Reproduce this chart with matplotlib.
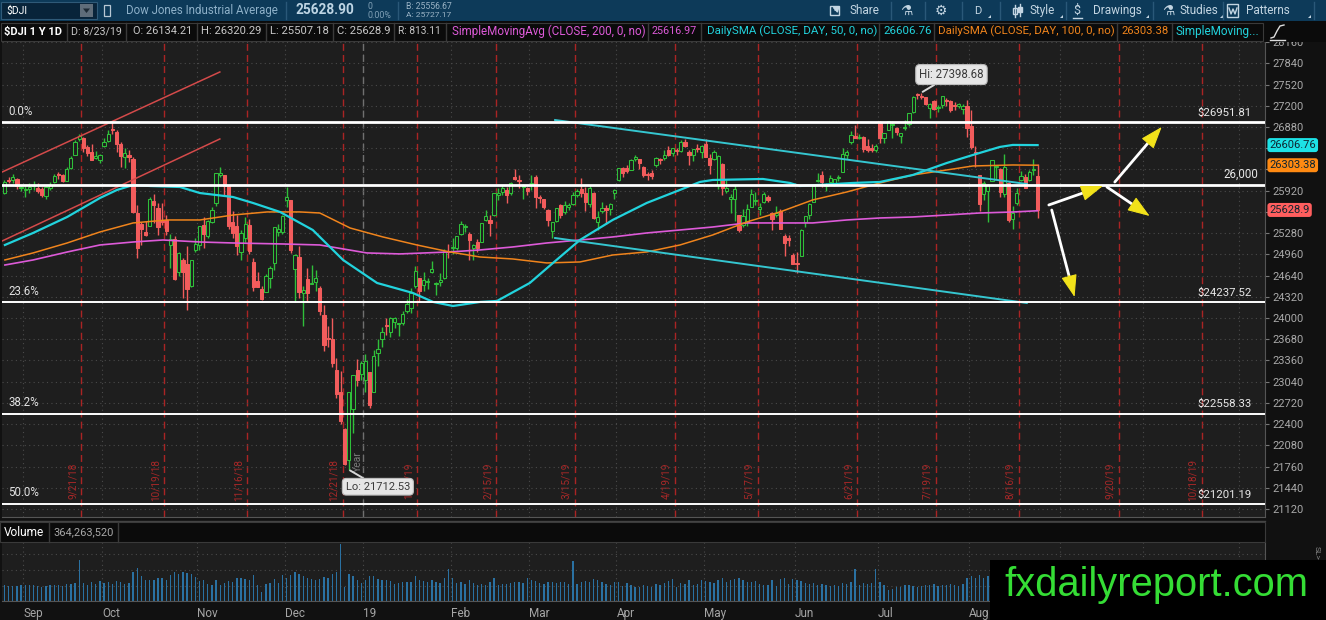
import numpy as np
import pandas as pd
import matplotlib
matplotlib.use("Agg")
import matplotlib.pyplot as plt
from matplotlib.transforms import blended_transform_factory as blend
from matplotlib.patches import Rectangle, FancyArrowPatch, Polygon

W, H = 1326, 620
UI = ['Roboto', 'DejaVu Sans']
plt.rcParams['font.family'] = UI

# ------------------------------------------------------------------ data
market_holidays = ['2018-09-03', '2018-11-22', '2018-12-05', '2018-12-25', '2019-01-01',
                   '2019-01-21', '2019-02-18', '2019-04-19', '2019-05-27', '2019-07-04',
                   '2019-09-02', '2019-11-28']
first_day = '2018-08-27'
axis_last_day = '2019-11-15'

opens = [25880, 26070, 26075, 26090, 25960,
         25930, 25950, 25990, 25960, 25950, 25840, 25960, 26050, 26160, 26150, 26070, 26260, 26460, 26700, 26710, 26580, 26500, 26410, 26380,
         26600, 26670, 26830, 26810, 26630, 26420, 26460, 26390, 25580, 25420, 25300, 25380, 25760, 25660, 25470, 25480, 25100, 25190, 24700, 24870, 24820, 24480, 25030,
         25100, 25400, 25240, 25440, 25740, 26150, 26150, 25990, 25450, 25390, 25000, 25200, 25400, 24850, 24560, 24440, 24390, 24600, 24830, 25300, 25300,
         25780, 25780, 24740, 24920, 24370, 24590, 24520, 24540, 24450, 24050, 23700, 23680, 23220, 22880, 22320, 21860, 22630, 23210, 23150,
         23060, 23180, 22890, 23470, 23680, 23890, 23790, 23940, 23910, 23920, 24100, 24150, 24480, 24610, 24500, 24550, 24700, 24520, 24540, 24610, 25010,
         25050, 25060, 25270, 25370, 25270, 25050, 25150, 25140, 25480, 25480, 25560, 25850, 25900, 25930, 25890, 26130, 26080, 25980, 25960,
         26020, 26120, 25820, 25800, 25630, 25310, 25460, 25700, 25600, 25680, 25720, 25860, 25950, 25880, 25720, 25890, 25440, 25620, 25660, 25640, 25880,
         26080, 26260, 26260, 26230, 26400, 26390, 26270, 26160, 26180, 26300, 26390, 26410, 26530, 26490, 26540, 26520, 26650, 26500, 26450, 26560, 26510,
         26620, 26410, 26390, 26000, 26320, 25920, 25800, 25800, 25560, 25400, 25440, 25680, 25760, 25640, 25750, 25820, 25590, 25560, 25610, 25240, 25200, 24950,
         24830, 24930, 25450, 25550, 25750, 26060, 26150, 25990, 26050, 26040, 26110, 26200, 26460, 26650, 26750, 26710, 26730, 26600, 26570, 26540,
         26960, 26710, 26830, 26910, 26870, 26740, 26860, 26920, 27100, 27360, 27350, 27330, 27160, 27270, 27170, 27210, 27290, 27270, 27200, 27190, 27150, 27200,
         26890, 26510, 26160, 25870, 25910, 26060, 26280, 26250, 25870, 26030, 25500, 25730, 26080, 26130, 26080, 26230, 26134.21]

highs = [26074, 26120, 26168, 26110, 26010,
         25990, 26040, 26070, 26030, 25970, 25990, 26050, 26170, 26200, 26170, 26270, 26440, 26680, 26770, 26730, 26610, 26630, 26520, 26470,
         26720, 26830, 26951.81, 26830, 26660, 26560, 26530, 26420, 25700, 25450, 25460, 25830, 25870, 25730, 25740, 25560, 25270, 25230, 25000, 24910, 25090, 24880, 25200,
         25390, 25530, 25480, 25680, 26190, 26280, 26150, 26000, 25610, 25550, 25320, 25520, 25500, 24900, 24700, 24480, 24660, 24790, 25370, 25420, 25550,
         25980, 25780, 24970, 25080, 24480, 24760, 24800, 24730, 24480, 24200, 23880, 24000, 23390, 23200, 22340, 22880, 23140, 23380, 23350,
         23460, 23180, 23520, 23690, 23860, 24000, 24020, 24020, 23930, 24100, 24290, 24450, 24780, 24610, 24700, 24600, 24860, 24540, 24680, 25040, 25110,
         25200, 25240, 25460, 25420, 25300, 25110, 25190, 25430, 25630, 25560, 25890, 25960, 26000, 25970, 26050, 26240, 26160, 26020, 25980,
         26150, 26160, 25860, 25800, 25650, 25450, 25660, 25720, 25760, 25740, 25900, 25940, 26110, 25980, 26000, 25900, 25620, 25750, 25710, 25740, 25950,
         26260, 26270, 26300, 26400, 26450, 26400, 26290, 26200, 26230, 26430, 26410, 26530, 26600, 26570, 26560, 26690, 26700, 26530, 26550, 26620, 26610,
         26700, 26480, 26530, 26460, 26330, 26080, 25870, 26000, 25560, 25650, 25720, 25940, 25900, 25740, 25900, 25860, 25600, 25690, 25650, 25270, 25250, 24980,
         25000, 25340, 25540, 25730, 26010, 26190, 26210, 26040, 26150, 26100, 26150, 26560, 26530, 26820, 26910, 26770, 26740, 26700, 26630, 26620,
         26970, 26790, 26970, 26970, 26880, 26790, 26990, 27090, 27340, 27390, 27398.68, 27330, 27240, 27290, 27210, 27350, 27320, 27290, 27250, 27240, 27220, 27280,
         27140, 26600, 26160, 26070, 26020, 26380, 26300, 26260, 26480, 26050, 25690, 25960, 26220, 26170, 26230, 26390, 26320.29]

lows = [25862, 26030, 26030, 25940, 25920,
        25830, 25890, 25930, 25880, 25830, 25790, 25930, 26040, 26100, 26050, 26060, 26240, 26450, 26670, 26500, 26440, 26380, 26400, 26340,
        26580, 26660, 26780, 26500, 26280, 26260, 26350, 25590, 24900, 25100, 25240, 25380, 25430, 25250, 25400, 25250, 24750, 24580, 24640, 24300, 24120, 24460, 24990,
        25030, 25050, 25210, 25430, 25690, 26120, 25850, 25340, 25200, 24950, 24870, 25140, 24960, 24400, 24460, 24270, 24390, 24450, 24730, 25230, 25270,
        25680, 24980, 24240, 24300, 23880, 24250, 24510, 24400, 24050, 23500, 23560, 23260, 22800, 22400, 21790, 21712.53, 22270, 22980, 23070,
        22880, 22640, 22880, 23270, 23570, 23740, 23710, 23850, 23730, 23900, 24070, 24080, 24450, 24240, 24400, 24440, 24680, 24350, 24480, 24590, 24900,
        24960, 25020, 25250, 25290, 24880, 24880, 25000, 25140, 25460, 25230, 25540, 25780, 25850, 25740, 25860, 26080, 25960, 25790, 25860,
        25930, 25660, 25730, 25650, 25390, 25210, 25450, 25510, 25570, 25630, 25700, 25830, 25830, 25620, 25680, 25490, 25320, 25580, 25420, 25560, 25800,
        26070, 26130, 26180, 26230, 26370, 26250, 26120, 26080, 26100, 26280, 26320, 26380, 26440, 26440, 26450, 26500, 26580, 26300, 26360, 26510, 26410,
        26420, 26170, 26380, 25950, 25860, 25880, 25580, 25460, 25300, 25370, 25390, 25680, 25700, 25560, 25740, 25750, 25330, 25530, 25340, 24940, 25080, 24810,
        24680, 24930, 25370, 25500, 25750, 26050, 25970, 25910, 26040, 25990, 26060, 26200, 26400, 26620, 26710, 26700, 26500, 26510, 26500, 26500,
        26640, 26640, 26830, 26720, 26760, 26640, 26830, 26900, 27090, 27300, 27300, 27210, 27020, 27130, 27110, 27160, 27200, 27100, 27140, 27160, 27070, 26730,
        26550, 26270, 25620, 25780, 25440, 26060, 26100, 25830, 25830, 25450, 25340, 25710, 26070, 25960, 26060, 26160, 25507.18]

closes = [26050, 26064, 26125, 25987, 25965,
          25952, 25975, 25996, 25917, 25857, 25971, 25999, 26146, 26155, 26062, 26247, 26406, 26657, 26744, 26562, 26492, 26385, 26440, 26458,
          26651, 26774, 26828, 26627, 26447, 26487, 26431, 25599, 25053, 25340, 25251, 25798, 25707, 25379, 25444, 25317, 25191, 24583, 24985, 24688, 24443, 24875, 25116,
          25381, 25271, 25462, 25635, 26180, 26191, 25989, 25387, 25286, 25081, 25289, 25413, 25017, 24466, 24465, 24286, 24640, 24749, 25366, 25339, 25538,
          25826, 25027, 24948, 24389, 24423, 24370, 24527, 24597, 24101, 23593, 23676, 23324, 22860, 22445, 21792, 22878, 23139, 23062, 23327,
          23346, 22686, 23433, 23531, 23787, 23879, 24002, 23996, 23910, 24066, 24207, 24370, 24706, 24404, 24576, 24553, 24737, 24528, 24580, 25015, 25000,
          25064, 25239, 25412, 25390, 25170, 25106, 25053, 25426, 25543, 25439, 25883, 25891, 25954, 25851, 26032, 26092, 26058, 25985, 25916,
          26026, 25820, 25807, 25673, 25473, 25450, 25651, 25555, 25703, 25710, 25849, 25914, 25887, 25746, 25963, 25502, 25517, 25658, 25626, 25717, 25929,
          26258, 26179, 26218, 26385, 26425, 26341, 26151, 26157, 26143, 26412, 26385, 26453, 26450, 26560, 26511, 26656, 26597, 26462, 26543, 26554, 26593,
          26430, 26308, 26505, 26438, 25965, 25967, 25828, 25942, 25325, 25532, 25648, 25863, 25764, 25680, 25877, 25777, 25490, 25586, 25348, 25126, 25170, 24815,
          24820, 25332, 25540, 25721, 25984, 26063, 26049, 26005, 26107, 26090, 26113, 26466, 26504, 26753, 26719, 26728, 26548, 26537, 26527, 26600,
          26717, 26787, 26966, 26922, 26806, 26783, 26860, 27088, 27332, 27359, 27336, 27220, 27223, 27154, 27172, 27349, 27270, 27141, 27192, 27221, 27198, 26864,
          26583, 26485, 25718, 26030, 26007, 26378, 26287, 25898, 26280, 25479, 25579, 25886, 26136, 25962, 26203, 26252, 25628.9]

volume_m = [230, 220, 215, 225, 240,
            230, 240, 235, 225, 210, 220, 235, 240, 230, 225, 250, 255, 260, 600, 265, 240, 270, 250, 290,
            260, 270, 250, 290, 280, 250, 260, 420, 480, 370, 300, 310, 300, 330, 340, 300, 380, 420, 400, 420, 410, 400, 350,
            290, 310, 250, 230, 300, 240, 260, 290, 280, 330, 330, 320, 300, 380, 230, 130, 250, 260, 320, 260, 380,
            330, 380, 420, 390, 360, 330, 320, 300, 320, 350, 330, 400, 430, 830, 200, 400, 360, 300, 260,
            300, 360, 370, 320, 310, 300, 290, 250, 260, 270, 280, 270, 360, 300, 290, 280, 300, 280, 260, 330, 460,
            330, 260, 280, 250, 300, 260, 240, 250, 240, 270, 330, 240, 250, 250, 260, 280, 270, 260, 330,
            300, 290, 260, 250, 280, 270, 260, 270, 280, 250, 585, 250, 270, 290, 280, 320, 300, 270, 250, 230, 280,
            270, 220, 260, 230, 210, 200, 240, 220, 200, 250, 230, 260, 290, 320, 200, 260, 250, 300, 240, 250, 300,
            290, 280, 260, 300, 330, 280, 310, 320, 340, 300, 280, 270, 290, 250, 240, 230, 310, 220, 320, 330, 250, 320,
            310, 290, 260, 250, 260, 240, 250, 230, 220, 230, 220, 260, 250, 270, 470, 240, 260, 250, 260, 460,
            270, 230, 160, 180, 200, 210, 230, 240, 220, 210, 220, 230, 240, 250, 220, 230, 240, 250, 230, 220, 250, 330,
            360, 330, 380, 340, 370, 300, 280, 270, 330, 380, 360, 300, 260, 240, 230, 240, 364.26352]

# moving averages (trading-day index, value)
sma200_x = [0.1, 6.9, 15.1, 23.0, 31.0, 38.2, 47.1, 55.1, 67.1, 76.0, 87.3, 95.3, 107.3, 114.6, 122.5, 130.7,
            138.7, 146.6, 154.8, 162.8, 170.7, 178.9, 186.9, 194.8, 203.0, 211.0, 218.9, 227.1, 235.0, 243.0, 249]
sma200_v = [24799, 24875, 24995, 25101, 25146, 25176, 25146, 25131, 25116, 25101, 24981, 24966, 24996, 25026, 25071, 25131,
            25176, 25222, 25282, 25327, 25372, 25433, 25433, 25433, 25478, 25508, 25523, 25553, 25583, 25598, 25616.97]
sma100_x = [0.1, 6.9, 15.1, 23.0, 31.0, 39.2, 47.1, 55.1, 63.3, 71.2, 76.0, 83.3, 91.2, 99.4, 107.3, 114.6, 122.5,
            130.7, 138.7, 146.6, 154.8, 162.8, 170.7, 178.9, 186.9, 194.8, 203.0, 211.0, 218.9, 227.1, 233.4, 243.0, 249]
sma100_v = [24875, 24981, 25131, 25297, 25433, 25478, 25478, 25553, 25599, 25599, 25583, 25357, 25222, 25101, 24996, 24920, 24890,
            24830, 24845, 24950, 24996, 25101, 25252, 25448, 25599, 25780, 25900, 26036, 26156, 26232, 26292, 26307, 26303.38]
sma50_x = [0.1, 6.9, 15.1, 23.0, 27.1, 31.0, 35.1, 42.3, 47.1, 55.1, 59.9, 66.4, 74.3, 81.6, 89.8, 98.4, 103.3, 108.1,
           114.6, 118.7, 126.6, 132.2, 138.7, 146.6, 154.8, 162.8, 167.6, 170.7, 182.8, 189.3, 191.7, 204.5, 211.0, 218.9,
           227.1, 233.4, 239.9, 243.0, 249]
sma50_v = [25101, 25282, 25523, 25809, 25930, 26005, 25990, 25975, 25884, 25824, 25734, 25599, 25327, 24875, 24528, 24378, 24242, 24181,
           24242, 24257, 24528, 24830, 25177, 25479, 25735, 25931, 26051, 26081, 26096, 26036, 25990, 26036, 26051, 26156,
           26337, 26458, 26579, 26609, 26606.76]

fib_labels = ['0.0%', '23.6%', '38.2%', '50.0%']
fib_prices = [26951.81, 24237.52, 22558.33, 21201.19]
round_level = 26000
expirations = ['2018-09-21', '2018-10-19', '2018-11-16', '2018-12-21', '2019-01-18', '2019-02-15', '2019-03-15',
               '2019-04-19', '2019-05-17', '2019-06-21', '2019-07-19', '2019-08-16', '2019-09-20', '2019-10-18']
month_names = ['Sep', 'Oct', 'Nov', 'Dec', '19', 'Feb', 'Mar', 'Apr', 'May', 'Jun', 'Jul', 'Aug', 'Sep', 'Oct', 'Nov']
price_ticks = np.arange(21120, 28161, 320)

# user drawings (trading-day index, price)
red_channel = [[(-1.08, 26186), (51.9, 27709)], [(-1.08, 25146), (51.9, 26699)]]
cyan_trend = [[(132.7, 26985), (246.4, 26020)], [(132.7, 25206), (246.4, 24226)]]
arrows = [((251.7, 25704), (264.7, 25990)), ((267.6, 26050), (278.9, 26880)),
          ((265.7, 25975), (276.0, 25538)), ((252.4, 25628), (257.9, 24317))]

n = len(closes)
assert len(opens) == n and len(highs) == n and len(lows) == n and len(volume_m) == n, \
    (len(opens), len(highs), len(lows), len(closes), len(volume_m))

days = pd.bdate_range(first_day, axis_last_day, freq='C', holidays=market_holidays)
idx = np.arange(n)
mon = days.month
month_ticks = [k - 0.5 for k in range(1, len(days)) if mon[k] != mon[k - 1]]
year_line = [k - 0.5 for k in range(1, len(days)) if days[k].year != days[k - 1].year][0]
exp_pos, exp_lab = [], []
for d in expirations:
    ts = pd.Timestamp(d)
    exp_pos.append(days.searchsorted(ts, side='right') - 1 + 0.5)
    exp_lab.append(f"{ts.month}/{ts.day}/{ts.year % 100}")


def fmt_price(v):
    s = f"{v:.2f}"
    return s[:-1] if s.endswith('0') else s


# ------------------------------------------------------------------ figure
BG = '#1e1e1e'
DARK = '#111111'
GREEN = '#2fbf3a'
RED = '#f25c5c'
CYAN = '#22d3dd'
ORANGE = '#f0841c'
MAGENTA = '#dd5ad8'
GRID = '#4a4a4a'

fig = plt.figure(figsize=(W / 100, H / 100), dpi=100, facecolor=DARK)


def rect(x0, y0, x1, y1):
    return [x0 / W, 1 - y1 / H, (x1 - x0) / W, (y1 - y0) / H]


XLIM = (-0.6, 303.8)
YLIM = (21000, 28161)
ax = fig.add_axes(rect(2, 42, 1265, 517), facecolor=BG)
ax.set_xlim(*XLIM)
ax.set_ylim(*YLIM)
for s in ['top', 'left']:
    ax.spines[s].set_visible(False)
for s in ['right', 'bottom']:
    ax.spines[s].set_color('#555555')
ax.set_xticks([])

badges = [(sma50_v[-1], '#1de2e6'), (sma100_v[-1], '#ff8a12'), (closes[-1], '#ff5e5e')]
units_per_px = (YLIM[1] - YLIM[0]) / 475.0
ax.yaxis.tick_right()
ax.set_yticks(price_ticks)
ax.set_yticklabels(['' if any(abs(t - b[0]) < 10 * units_per_px for b in badges) else str(int(t))
                    for t in price_ticks])
ax.tick_params(axis='y', colors='#777777', labelcolor='#a9a9a9', labelsize=8, length=3, width=0.8, pad=2)
ax.grid(axis='y', color=GRID, lw=0.8, ls=(0, (1, 3)))
for mt in month_ticks:
    ax.axvline(mt, color=GRID, lw=0.8, ls=(0, (1, 3)), zorder=0.5)

xy_blend = blend(ax.transData, ax.transAxes)
# option expiration markers
for p, lab in zip(exp_pos, exp_lab):
    ax.axvline(p, color='#aa2424', lw=1.0, ls=(0, (5, 3)), zorder=1)
    ax.text(p - 2.05, 0.077, lab, transform=xy_blend, rotation=90, color='#a82828',
            fontsize=7.2, ha='center', va='center', zorder=1)
ax.axvline(year_line, color='#707070', lw=1.0, ls=(0, (5, 3)), zorder=1)
ax.text(year_line - 1.4, 0.116, 'Year', transform=xy_blend, rotation=90, color='#7a7a7a',
        fontsize=7.5, ha='center', va='center', zorder=1)

# fibonacci / level lines
for lab, p in zip(fib_labels, fib_prices):
    ax.axhline(p, color='white', lw=2.0 if lab == '0.0%' else 1.4, zorder=6)
    ax.annotate(lab, xy=(0.005, p), xycoords=blend(ax.transAxes, ax.transData), xytext=(0, 3),
                textcoords='offset points', ha='left', va='bottom', color='#e2e2e2', fontsize=8.3, zorder=6)
    ax.annotate(f"${p:.2f}", xy=(0.9895, p), xycoords=blend(ax.transAxes, ax.transData), xytext=(0, 3),
                textcoords='offset points', ha='right', va='bottom', color='#e8e8e8', fontsize=8.2, zorder=6)
ax.axhline(round_level, color='white', lw=2.0, zorder=6)
ax.annotate(f"{round_level:,}", xy=(0.9945, round_level), xycoords=blend(ax.transAxes, ax.transData),
            xytext=(0, 3), textcoords='offset points', ha='right', va='bottom', color='#e8e8e8', fontsize=8.3, zorder=6)

# candles
o = np.array(opens, float); hh = np.array(highs, float); ll = np.array(lows, float); c = np.array(closes, float)
up = c >= o
edge = np.where(up, GREEN, RED)
ax.vlines(idx, ll, hh, colors=edge, lw=1.0, zorder=3)
ax.bar(idx, np.maximum(np.abs(c - o), 14), bottom=np.minimum(o, c), width=0.78,
       color=np.where(up, BG, RED), edgecolor=edge, linewidth=0.75, zorder=4)

# moving averages
ax.plot(sma200_x, sma200_v, color=MAGENTA, lw=1.2, zorder=5)
ax.plot(sma100_x, sma100_v, color=ORANGE, lw=1.1, zorder=5)
ax.plot(sma50_x, sma50_v, color=CYAN, lw=1.6, zorder=5)

# drawings
for seg in red_channel:
    ax.plot([seg[0][0], seg[1][0]], [seg[0][1], seg[1][1]], color='#d44a4a', lw=1.1, zorder=5)
for seg in cyan_trend:
    ax.plot([seg[0][0], seg[1][0]], [seg[0][1], seg[1][1]], color='#35c6d0', lw=1.4, zorder=5)
for tail, head in arrows:
    ax.add_patch(FancyArrowPatch(tail, head, arrowstyle='-', color='white', lw=2.0,
                                 shrinkA=0, shrinkB=4, zorder=7))
    near = (head[0] + (tail[0] - head[0]) * 0.25, head[1] + (tail[1] - head[1]) * 0.25)
    ax.add_patch(FancyArrowPatch(near, head, arrowstyle='-|>,head_length=1.4,head_width=0.5',
                                 mutation_scale=10, fc='#f2e21a', ec='#f2e21a', lw=0.8,
                                 shrinkA=0, shrinkB=0, zorder=8))

# hi / lo callouts
ihi = int(np.argmax(hh)); ilo = int(np.argmin(ll))
box = dict(boxstyle='round,pad=0.3,rounding_size=0.35', fc='#e6e6e6', ec='#bdbdbd', lw=0.8)
ax.annotate(f"Hi: {hh[ihi]:.2f}", xy=(ihi, hh[ihi]), xytext=(30, 18), textcoords='offset pixels',
            ha='center', va='center', color='#3a3a3a', fontsize=8.3, bbox=box, zorder=9,
            arrowprops=dict(arrowstyle='-', color='#d8d8d8', lw=1.4, shrinkA=0, shrinkB=1))
ax.annotate(f"Lo: {ll[ilo]:.2f}", xy=(ilo, ll[ilo]), xytext=(29, -17), textcoords='offset pixels',
            ha='center', va='center', color='#3a3a3a', fontsize=8.0, bbox=box, zorder=9,
            arrowprops=dict(arrowstyle='-', color='#d8d8d8', lw=1.4, shrinkA=0, shrinkB=1))

# price badges on the right axis
badge_blend = blend(ax.transAxes, ax.transData)
for val, col in badges:
    ax.text(1.0035, val, fmt_price(val), transform=badge_blend, ha='left', va='center', fontsize=8,
            color='#102530', clip_on=False, zorder=10,
            bbox=dict(boxstyle='round,pad=0.18,rounding_size=0.25', fc=col, ec='none'))

# ------------------------------------------------------------------ volume
axv = fig.add_axes(rect(2, 542, 1265, 601), facecolor=BG)
axv.set_xlim(*XLIM)
axv.set_ylim(0, 861)
for s in ['top', 'left']:
    axv.spines[s].set_visible(False)
for s in ['right', 'bottom']:
    axv.spines[s].set_color('#555555')
axv.set_yticks([])
for gv in (219, 453, 686):
    axv.axhline(gv, color=GRID, lw=0.8, ls=(0, (1, 3)), zorder=0.5)
for mt in month_ticks:
    axv.axvline(mt, color=GRID, lw=0.8, ls=(0, (1, 3)), zorder=0.5)
axv.bar(idx, volume_m, width=0.32, color='#2a71a2', lw=0, zorder=2)
axv.set_xticks(month_ticks)
axv.set_xticklabels(month_names[:len(month_ticks)], ha='left')
axv.tick_params(axis='x', length=0, pad=4, labelsize=8.5, labelcolor='#a6a6a6')

# ------------------------------------------------------------------ chrome overlay (pixel coords)
ov = fig.add_axes([0, 0, 1, 1], facecolor='none', zorder=20)
ov.set_xlim(0, W)
ov.set_ylim(H, 0)
ov.axis('off')
R = fig.canvas.get_renderer()


def txt(x0, x1, y, s, color, size, weight='normal', family=None):
    t = ov.text(x0, y, s, color=color, fontsize=size, fontweight=weight, va='center', ha='left',
                family=family or UI)
    if x1 is not None:
        w = t.get_window_extent(R).width
        if w > 0:
            t.set_fontsize(size * max(0.8, min(1.12, (x1 - x0) / w)))
    return t


def vsep(x, y0, y1, col):
    ov.plot([x, x], [y0, y1], color=col, lw=1)


# toolbar
ov.add_patch(Rectangle((0, 0), W, 21, fc='#0d3a59', ec='none'))
ov.add_patch(Rectangle((1, 2), 96, 17, fc='#08243a', ec='#2f5a78', lw=0.8))
ov.add_patch(Rectangle((80, 4), 13, 13, fc='#5f6d7a', ec='none'))
ov.add_patch(Polygon([(83, 8.5), (90, 8.5), (86.5, 13)], fc='#1d2a35', ec='none'))
txt(6, 27, 10.5, '$DJI', 'white', 8.5)
ov.add_patch(Rectangle((104, 5), 6, 11, fc='none', ec='#b8c8d4', lw=0.9))
txt(126, 277, 10.5, 'Dow Jones Industrial Average', '#8db0c8', 8.5)
vsep(286, 2, 19, '#2a5878')
txt(296, 355, 10.5, f"{closes[-1]:.2f}", '#bed5e4', 10.5, weight='bold')
txt(367, 372, 6.5, '0', '#7f9fb5', 6)
txt(367, 391, 15, '0.00%', '#7f9fb5', 6)
vsep(398, 2, 19, '#2a5878')
txt(406, 452, 6.5, 'B: 25556.67', '#9ab3c5', 6)
txt(406, 452, 15, 'A: 25727.17', '#9ab3c5', 6)
for xs in (891, 925, 962, 1000, 1066, 1153, 1223, 1314):
    vsep(xs, 2, 19, '#2a5878')
TB = '#c3d5e2'
# share icon
ov.add_patch(Rectangle((830, 6), 9, 9, fc='none', ec=TB, lw=1.0))
ov.add_patch(FancyArrowPatch((833, 12), (842, 4), arrowstyle='-|>,head_length=0.4,head_width=0.25',
                             mutation_scale=8, color=TB, lw=1.1))
txt(850, None, 10.5, 'Share', TB, 8.5)
txt(900, None, 10.5, '\u2697', TB, 10, family=['DejaVu Sans'])
txt(935, None, 10.5, '\u2699', TB, 10, family=['DejaVu Sans'])
txt(974, None, 10.5, 'D', TB, 8)
# style icon (two little candles)
ov.plot([1015, 1015], [5, 17], color=TB, lw=1)
ov.add_patch(Rectangle((1013, 8), 4, 6, fc='#0d3a59', ec=TB, lw=1))
ov.plot([1020, 1020], [4, 16], color=TB, lw=1)
ov.add_patch(Rectangle((1018, 7), 4, 5, fc=TB, ec=TB, lw=1))
txt(1030, None, 10.5, 'Style', TB, 8.5)
txt(1073, None, 10, '$', TB, 9)
ov.plot([1073, 1082], [17.5, 17.5], color=TB, lw=1)
txt(1093, None, 10.5, 'Drawings', TB, 8.5)
txt(1162, None, 10.5, '\u2697', TB, 10, family=['DejaVu Sans'])
txt(1180, None, 10.5, 'Studies', TB, 8.5)
# patterns icon
ov.add_patch(Rectangle((1227, 4), 11, 13, fc='none', ec=TB, lw=1))
ov.plot([1229, 1231, 1233, 1235, 1237], [8, 14, 9, 14, 8], color=TB, lw=1)
txt(1246, None, 10.5, 'Patterns', TB, 8.5)
for xc in (988, 1060, 1146, 1220, 1308):
    ov.add_patch(Polygon([(xc, 18), (xc + 3, 18), (xc + 3, 15)], fc=TB, ec='none'))

# study header row
ov.add_patch(Rectangle((0, 21), W, 21, fc='#0b0b0b', ec='none'))
ov.add_patch(Rectangle((0.5, 22.5), 1262, 18, fc='none', ec='#3a3a3a', lw=0.8))
for xs in (66.5, 126, 197, 266, 332.5, 394, 446, 648, 701, 879, 934, 1117, 1172):
    vsep(xs, 22.5, 40.5, '#3a3a3a')
HC = '#c8c8c8'
txt(4, 62, 31.5, '$DJI 1 Y 1D', 'white', 8.5, weight='bold')
txt(71, 122, 31.5, 'D: 8/23/19', HC, 8.5)
txt(133, 192, 31.5, f"O: {opens[-1]:.2f}", HC, 8.5)
txt(201, 262, 31.5, f"H: {highs[-1]:.2f}", HC, 8.5)
txt(270, 329, 31.5, f"L: {lows[-1]:.2f}", HC, 8.5)
txt(337, 391, 31.5, f"C: {fmt_price(closes[-1])}", HC, 8.5)
txt(398, 441, 31.5, f"R: {highs[-1] - lows[-1]:.2f}", HC, 8.5)
txt(452, 644, 31.5, 'SimpleMovingAvg (CLOSE, 200, 0, no)', MAGENTA, 8.5)
txt(652, 697, 31.5, f"{sma200_v[-1]:.2f}", MAGENTA, 8.5)
txt(707, 875, 31.5, 'DailySMA (CLOSE, DAY, 50, 0, no)', CYAN, 8.5)
txt(883, 931, 31.5, f"{sma50_v[-1]:.2f}", CYAN, 8.5)
txt(938, 1112, 31.5, 'DailySMA (CLOSE, DAY, 100, 0, no)', ORANGE, 8.5)
txt(1121, 1168, 31.5, f"{sma100_v[-1]:.2f}", ORANGE, 8.5)
txt(1176, 1259, 31.5, 'SimpleMoving...', CYAN, 8.5)
ov.plot([1271, 1274, 1277, 1280, 1284], [38, 37, 31, 26, 25], color='#dddddd', lw=1.0)
ov.plot([1270, 1285], [40, 40], color='#dddddd', lw=1.0)

# separator & volume header
ov.plot([0, 1265], [520.5, 520.5], color='#444444', lw=1)
ov.add_patch(Rectangle((0, 522), 1265, 20, fc='#0b0b0b', ec='#3a3a3a', lw=0.8))
vsep(49, 522, 542, '#3a3a3a')
vsep(118, 522, 542, '#3a3a3a')
txt(4, 44, 532, 'Volume', 'white', 8.5)
txt(53, 113, 532, f"{int(round(volume_m[-1] * 1e6)):,}", '#a8a8a8', 8.5)
ov.text(1317, 553, 'SL>', rotation=270, fontsize=6, color='#8a8a8a', ha='center', va='center')

# watermark
ov.add_patch(Rectangle((990, 560), W - 990, H - 560, fc='black', ec='none'))
txt(1004, 1308, 585, 'fxdailyreport.com', '#35dd35', 26, family=['Liberation Sans', 'DejaVu Sans'])

fig.savefig('out.png', dpi=100, facecolor=fig.get_facecolor())
